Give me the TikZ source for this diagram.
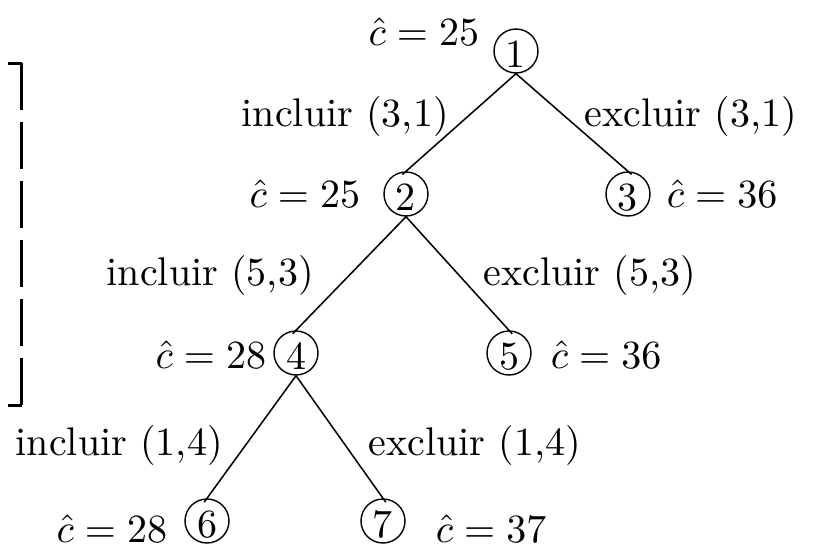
\documentclass[tikz,border=0pt]{standalone}
\usepackage{amsmath}
\usepackage{tikz}
\usetikzlibrary{positioning}

\begin{document}
\begin{tikzpicture}[x=0.25pt, y=-0.25pt,
        state/.style={circle, draw, line width=0.35pt, minimum size=11pt, inner sep=0pt,
                      text height=8pt, text depth=0pt},
        lbl/.style={inner sep=0pt},
        branch/.style={line width=0.38pt, shorten >=-1.2pt}]
        \useasboundingbox (0,0) rectangle (817,547);
        % nodos
        \node[state] (n1) at (516,51) {1};
        \node[state] (n2) at (406,194) {2};
        \node[state] (n3) at (628,194) {3};
        \node[state] (n4) at (296,353) {4};
        \node[state] (n5) at (509,353) {5};
        \node[state] (n6) at (207,521) {6};
        \node[state] (n7) at (383,521) {7};

        % custos
        \node[lbl, anchor=base east] (c1) at (480,45) {$\hat{c} = 25$};
        \node[lbl, anchor=base east] (c2) at (361,207) {$\hat{c} = 25$};
        \node[lbl, anchor=base west] (c3) at (666,207) {$\hat{c} = 36$};
        \node[lbl, anchor=base east] (c4) at (267,368) {$\hat{c} = 28$};
        \node[lbl, anchor=base west] (c5) at (550,368) {$\hat{c} = 36$};
        \node[lbl, anchor=base east] (c6) at (168,542) {$\hat{c} = 28$};
        \node[lbl, anchor=base west] (c7) at (435,542) {$\hat{c} = 37$};

        % ramos
        \draw[branch] (n1.south) -- (n2.north);
        \draw[branch] (n1.south) -- (n3.north);
        \draw[branch] (n2.south) -- (n4.north);
        \draw[branch] (n2.south) -- (n5.north);
        \draw[branch] (n4.south) -- (n6.north);
        \draw[branch] (n4.south) -- (n7.north);

        \node[lbl, anchor=base west] (inc31) at (241,126) {incluir (3,1)};
        \node[lbl, anchor=base west] (exc31) at (584,126) {excluir (3,1)};
        \node[lbl, anchor=base west] (inc53) at (106,285) {incluir (5,3)};
        \node[lbl, anchor=base west] (exc53) at (483,285) {excluir (5,3)};
        \node[lbl, anchor=base west] (inc14) at (15,455) {incluir (1,4)};
        \node[lbl, anchor=base west] (exc14) at (368,455) {excluir (1,4)};

        % chave
        \coordinate (top) at (22,63);
        \coordinate (bot) at (22,405);
        \draw[line width=0.75pt] (8,63) -- (top);
        \draw[line width=0.75pt] (8,405) -- (bot);
        \draw[line width=0.75pt, dash pattern=on 11.75pt off 3pt] (top) -- (bot);
    \end{tikzpicture}
\end{document}
